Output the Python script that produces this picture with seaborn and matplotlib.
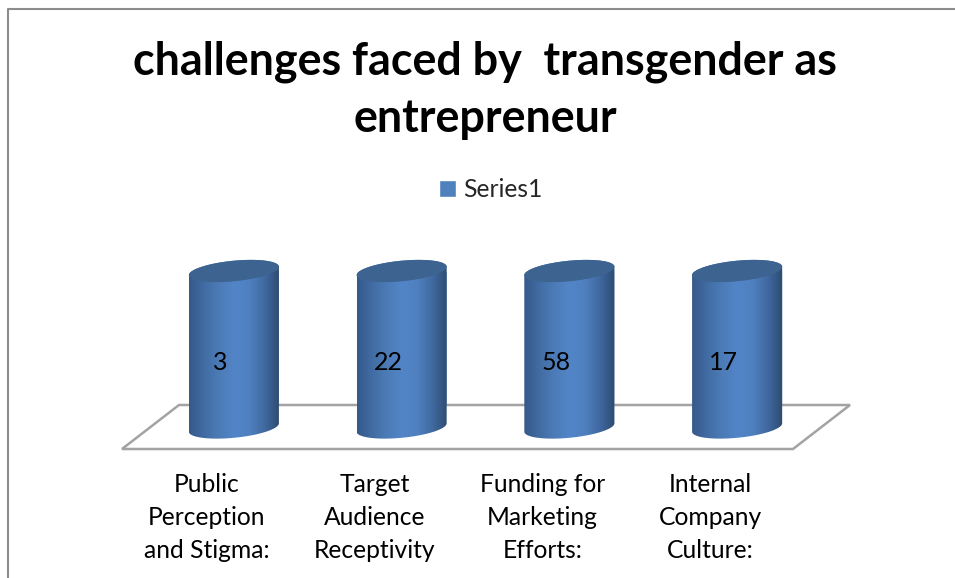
import numpy as np
import pandas as pd
import seaborn as sns
import matplotlib.pyplot as plt
from matplotlib.colors import LinearSegmentedColormap
from matplotlib.lines import Line2D
from matplotlib.path import Path
from matplotlib.patches import PathPatch, Polygon
from matplotlib.transforms import ScaledTranslation

# chart data
categories = ["Public\nPerception\nand Stigma:", "Target\nAudience\nReceptivity",
              "Funding for\nMarketing\nEfforts:", "Internal\nCompany\nCulture:"]
values = [3, 22, 58, 17]
# the columns are 100% stacked, one series, so all reach the same height
stacked_pct = [100, 100, 100, 100]
series_name = "Series1"
title = "challenges faced by  transgender as\nentrepreneur"

W, H = 955, 578
sns.set_theme(style="white")
plt.rcParams["font.family"] = ["Lato", "DejaVu Sans"]

fig = plt.figure(figsize=(W / 100, H / 100), dpi=100)

# axes box in pixels of the picture
left, right = 150.0, 821.0
top, bottom = 240.0, 466.0
ax = fig.add_axes([left / W, 1 - bottom / H, (right - left) / W, (bottom - top) / H])
ax.patch.set_alpha(0)

y_unit = 1.565  # pixels per percent
x_unit = (right - left) / 4
y_zero = 427.5
xlim = (-0.5, 3.5)
ylim = ((y_zero - bottom) / y_unit, (y_zero - top) / y_unit)

df = pd.DataFrame({"category": categories, "pct": stacked_pct})
sns.barplot(df, x="category", y="pct", color="#4f81bd", width=0.537,
            saturation=1, label=series_name, ax=ax)

# side shading of the cylinders
shade = LinearSegmentedColormap.from_list(
    "cyl", ["#36598a", "#416ca3", "#4c7bb7", "#5285c8", "#4f80bf", "#4069a0", "#2d4b70"])
gradient = np.linspace(0, 1, 256).reshape(1, -1)


def ellipse(cx, cy, t):
    dx = 0.5 * 0.537 * np.cos(t)
    dy = (4.2 / y_unit) * np.cos(t) + (10.3 / y_unit) * np.sin(t)
    return np.column_stack([cx + dx, cy + dy])


for bar in ax.patches:
    cx = bar.get_x() + bar.get_width() / 2
    h = bar.get_height()
    low = ellipse(cx, 0, np.linspace(np.pi, 2 * np.pi, 60))
    high = ellipse(cx, h, np.linspace(0, np.pi, 60))
    body = PathPatch(Path(np.vstack([low, high, low[:1]])), transform=ax.transData)
    bar.set_clip_path(body)
    im = ax.imshow(gradient, cmap=shade, aspect="auto", zorder=3,
                   extent=(cx - bar.get_width() / 2, cx + bar.get_width() / 2, -15, h + 15))
    im.set_clip_path(body)
    ax.add_patch(Polygon(ellipse(cx, h, np.linspace(0, 2 * np.pi, 120)),
                         facecolor="#3d6390", edgecolor="none", zorder=4))

# floor of the 3D plot
floor_px = [(122, 449), (179, 405), (850, 405), (793, 449)]
floor = [((x - left) / x_unit - 0.5, (y_zero - y) / y_unit) for x, y in floor_px]
ax.add_patch(Polygon(floor, closed=True, facecolor="white", edgecolor="#a3a3a3",
                     linewidth=1.8, zorder=1, clip_on=False))

# value labels sit left of the column centres
for i, v in enumerate(values):
    ax.text(i - 13.5 / x_unit, (y_zero - 362) / y_unit, str(v), ha="center", va="center",
            fontsize=18, color="black", zorder=5)

ax.set_xlim(xlim)
ax.set_ylim(ylim)
ax.set_xlabel("")
ax.set_ylabel("")
ax.set_yticks([])
sns.despine(ax=ax, left=True, bottom=True)
ax.tick_params(axis="x", length=0, pad=5, labelsize=17.7, colors="black")
shift = ScaledTranslation(-27 / 100, 0, fig.dpi_scale_trans)
for lab in ax.get_xticklabels():
    lab.set_transform(lab.get_transform() + shift)
    lab.set_linespacing(1.53)

fig.text(485 / W, 1 - 90 / H, title, ha="center", va="center", fontsize=32.3,
         fontweight="bold", color="black", linespacing=1.45)

ax.legend(loc="center", bbox_to_anchor=(491 / W, 1 - 190 / H), bbox_transform=fig.transFigure,
          frameon=False, fontsize=17.7, handlelength=0.7, handleheight=0.7, handletextpad=0.28)

# chart frame, cut by the picture on the right and at the bottom
frame = Line2D([7.5 / W, 7.5 / W, 1], [0, 1 - 9 / H, 1 - 9 / H], transform=fig.transFigure,
               color="#8c8c8c", linewidth=1.5)
fig.add_artist(frame)

fig.savefig("out.png", dpi=100, facecolor="white")
